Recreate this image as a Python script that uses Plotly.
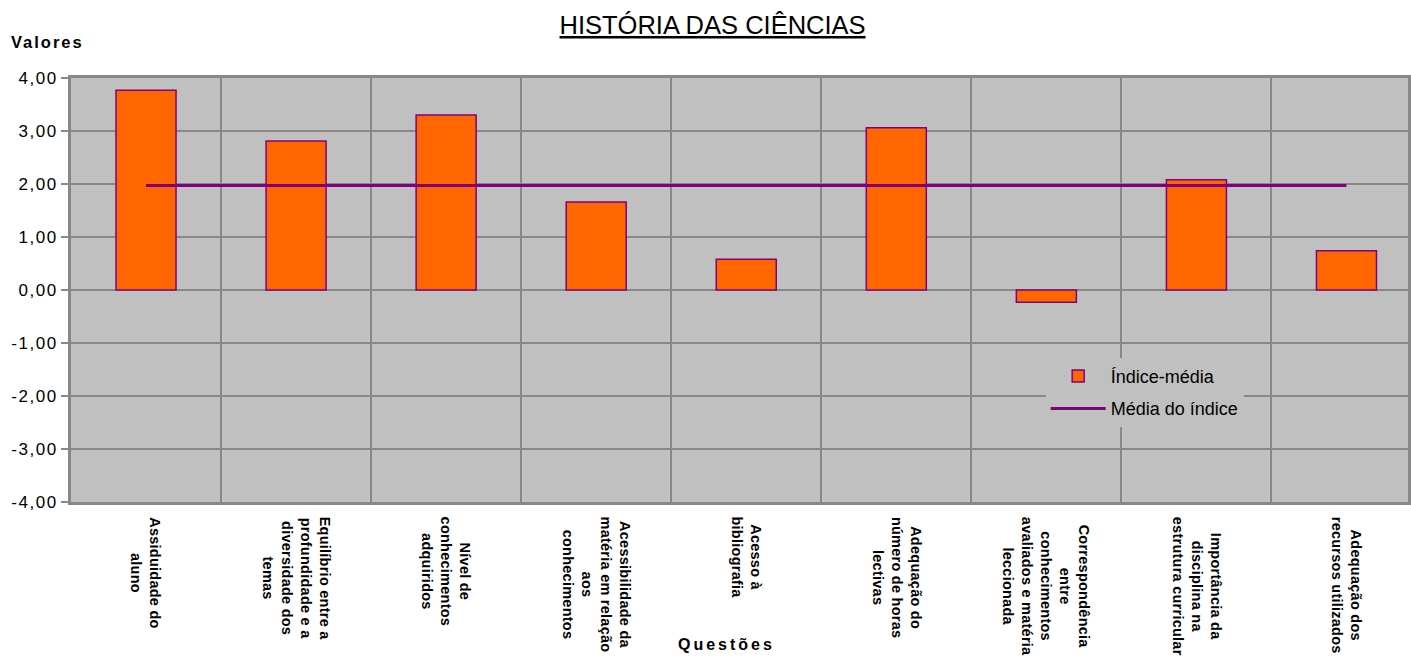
import plotly.graph_objects as go

# dados
questoes = [
    "Assiduidade do<br>aluno",
    "Equilíbrio entre a<br>profundidade e a<br>diversidade dos<br>temas",
    "Nível de<br>conhecimentos<br>adquiridos",
    "Acessibilidade da<br>matéria em relação<br>aos<br>conhecimentos",
    "Acesso à<br>bibliografia",
    "Adequação do<br>número de horas<br>lectivas",
    "Correspondência<br>entre<br>conhecimentos<br>avaliados e matéria<br>leccionada",
    "Importância da<br>disciplina na<br>estrutura curricular",
    "Adequação dos<br>recursos utilizados",
]
indice_media = [3.77, 2.81, 3.30, 1.66, 0.58, 3.06, -0.23, 2.08, 0.74]
media_indice = [1.97] * len(questoes)
y_ticks = [-4, -3, -2, -1, 0, 1, 2, 3, 4]

FONT = "Arial, Liberation Sans, sans-serif"
GRID = "#888888"

def espacado(txt, px):
    return '<span style="letter-spacing:%spx">%s</span>' % (px, txt)

fig = go.Figure()
fig.add_trace(go.Bar(x=questoes, y=indice_media, name="Índice-média",
                     width=0.4, legendgroup="a",
                     marker=dict(color="#FF6600",
                                 line=dict(color="#800080", width=1.5))))
fig.add_trace(go.Scatter(x=questoes, y=media_indice, name="Média do índice",
                         mode="lines", legendgroup="b",
                         line=dict(color="#800080", width=3)))

# rótulos das questões (linhas centradas, rodados 90 graus)
anots = []
for q in questoes:
    linhas = "<br>".join(espacado("<b>%s</b>" % l, 0.25) for l in q.split("<br>"))
    anots.append(dict(text=linhas, xref="x", yref="paper", x=q, y=-0.03,
                      xanchor="center", yanchor="top", textangle=90,
                      align="center", showarrow=False,
                      font=dict(size=14.5, family=FONT)))

anots += [
    dict(text=espacado("<b>Valores</b>", 2), xref="paper", yref="paper",
         x=-0.046, y=1.085, xanchor="left", yanchor="middle", showarrow=False,
         font=dict(size=16.5)),
    dict(text=espacado("<b>Questões</b>", 3), xref="paper", yref="paper",
         x=0.49, y=-0.335, xanchor="center", yanchor="middle", showarrow=False,
         font=dict(size=16)),
]

fig.update_layout(
    width=1411, height=659,
    margin=dict(l=71, r=0, t=78, b=157),
    paper_bgcolor="white", plot_bgcolor="#C0C0C0",
    font=dict(family=FONT, color="black", size=15),
    title=dict(text="<u>HISTÓRIA DAS CIÊNCIAS</u>", x=0.505, xanchor="center",
               y=0.962, yanchor="middle", font=dict(size=25.5)),
    legend=dict(x=0.729, y=0.34, xanchor="left", yanchor="top",
                bgcolor="#C0C0C0", font=dict(size=18), tracegroupgap=6,
                itemwidth=55),
    showlegend=True,
    annotations=anots,
)
fig.update_xaxes(type="category", range=[-0.5, 8.41], tickson="boundaries",
                 showgrid=True, gridcolor=GRID, gridwidth=2,
                 ticks="", showticklabels=False,
                 showline=True, linecolor=GRID, linewidth=3, mirror=True)
fig.update_yaxes(range=[-4, 4], tickvals=y_ticks,
                 ticktext=[espacado(("%.2f" % v).replace(".", ","), 1.5) for v in y_ticks],
                 showgrid=True, gridcolor=GRID, gridwidth=2,
                 zeroline=True, zerolinecolor=GRID, zerolinewidth=2,
                 ticks="outside", ticklen=7, tickcolor=GRID, tickwidth=2,
                 showline=True, linecolor=GRID, linewidth=3, mirror=True,
                 tickfont=dict(size=17))

fig.write_html("out.html", config={"displayModeBar": False},
               post_script="document.body.style.margin='0';")
